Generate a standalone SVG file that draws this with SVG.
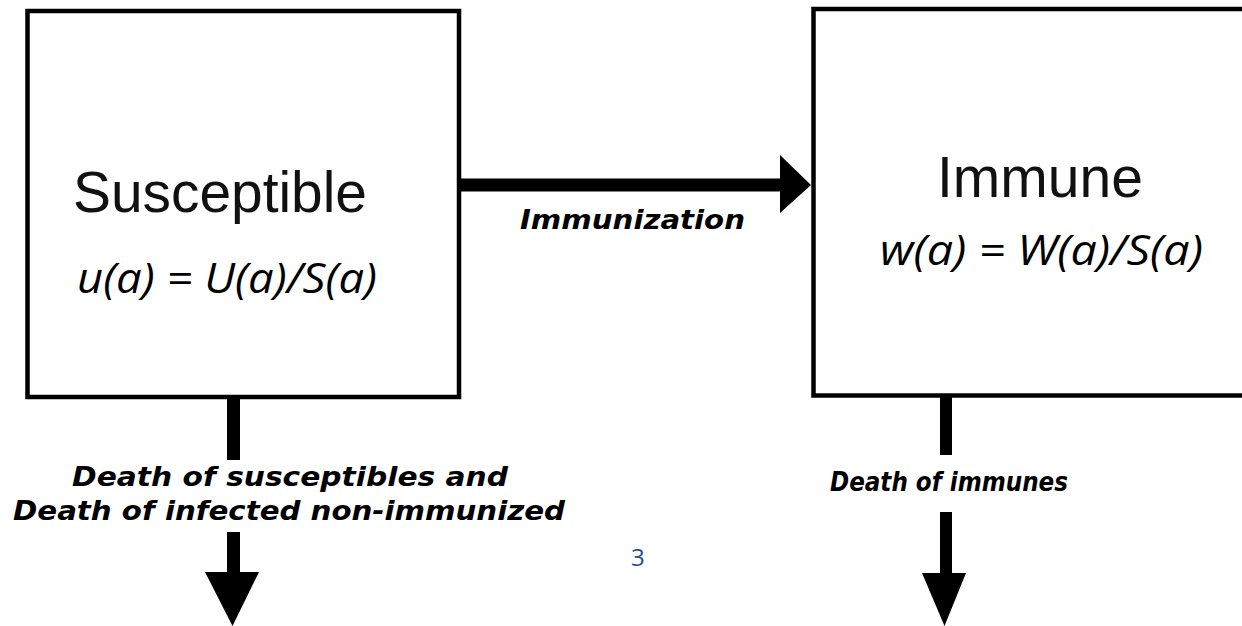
<svg xmlns="http://www.w3.org/2000/svg" width="1242" height="626" viewBox="0 0 1242 626">
<style>
.box{fill:#fff;stroke:#000;stroke-width:4.5}
.title{font-family:"Liberation Sans",Arial,sans-serif;font-size:57px;fill:#111}
.formula{font-family:"Open Sans","Noto Sans",sans-serif;font-style:italic;font-size:42px;fill:#000}
.lbl{font-family:"DejaVu Sans",sans-serif;font-weight:bold;font-style:italic;font-size:27px;fill:#000}
.shaft{fill:#000}
.page{font-family:"Open Sans","Noto Sans",sans-serif;font-size:24px;fill:#1F4E99}
</style>
<rect width="1242" height="626" fill="#fff"/>
<g id="node-susceptible">
<rect class="box" x="27.5" y="11" width="431.5" height="386"/>
<text class="title" x="73" y="212" textLength="294" lengthAdjust="spacingAndGlyphs">Susceptible</text>
<text class="formula" x="77" y="293" textLength="300" lengthAdjust="spacingAndGlyphs">u(a) = U(a)/S(a)</text>
</g>
<g id="node-immune">
<rect class="box" x="813.5" y="9" width="440" height="386.5"/>
<text class="title" x="937" y="197" textLength="206" lengthAdjust="spacingAndGlyphs">Immune</text>
<text class="formula" x="880" y="265" textLength="323" lengthAdjust="spacingAndGlyphs">w(a) = W(a)/S(a)</text>
</g>
<g id="connectors">
<rect class="shaft" x="459" y="178.5" width="323" height="13"/>
<polygon class="shaft" points="780,155 811,185 780,213"/>
<rect class="shaft" x="227" y="397" width="13" height="63"/>
<rect class="shaft" x="227" y="532" width="13" height="42"/>
<polygon class="shaft" points="205,572 259,572 232.5,626"/>
<rect class="shaft" x="940" y="395" width="12" height="60"/>
<rect class="shaft" x="940" y="512" width="12" height="63"/>
<polygon class="shaft" points="922,573 966,573 944.5,626"/>
</g>
<g id="labels">
<text class="lbl" x="520" y="229" textLength="225" lengthAdjust="spacingAndGlyphs">Immunization</text>
<text class="lbl" x="72" y="486" textLength="436" lengthAdjust="spacingAndGlyphs">Death of susceptibles and</text>
<text class="lbl" x="13" y="520" textLength="552" lengthAdjust="spacingAndGlyphs">Death of infected non-immunized</text>
<text class="lbl" x="830" y="491" textLength="238" lengthAdjust="spacingAndGlyphs">Death of immunes</text>
</g>
<text class="page" x="631" y="566">3</text>
</svg>
